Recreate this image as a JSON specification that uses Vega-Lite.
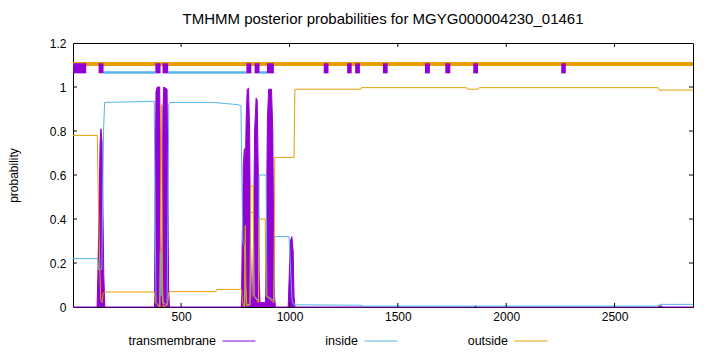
{
  "$schema": "https://vega.github.io/schema/vega-lite/v6.json",
  "width": 620,
  "height": 264,
  "autosize": {"type": "none"},
  "padding": {"left": 73, "top": 43, "right": 27, "bottom": 45},
  "background": "white",
  "config": {
    "font": "Liberation Sans",
    "view": {"stroke": "black", "strokeWidth": 1},
    "axis": {"grid": false, "ticks": false, "domain": false, "labelFont": "Liberation Sans", "labelFontSize": 12, "labelColor": "black", "titleFont": "Liberation Sans", "titleFontSize": 12, "titleFontWeight": "normal", "titleColor": "black"}
  },
  "title": {"text": "TMHMM posterior probabilities for MGYG000004230_01461", "fontSize": 15, "fontWeight": "normal", "font": "Liberation Sans", "color": "black", "anchor": "middle", "offset": 10},
  "datasets": {
    "curves": [
      {"series": "transmembrane", "pos": 1, "p": 0},
      {"series": "transmembrane", "pos": 112, "p": 0},
      {"series": "transmembrane", "pos": 116, "p": 0.15},
      {"series": "transmembrane", "pos": 121, "p": 0.45},
      {"series": "transmembrane", "pos": 126, "p": 0.75},
      {"series": "transmembrane", "pos": 130, "p": 0.81},
      {"series": "transmembrane", "pos": 135, "p": 0.75},
      {"series": "transmembrane", "pos": 139, "p": 0.45},
      {"series": "transmembrane", "pos": 143, "p": 0.15},
      {"series": "transmembrane", "pos": 148, "p": 0},
      {"series": "transmembrane", "pos": 377, "p": 0},
      {"series": "transmembrane", "pos": 381, "p": 0.6},
      {"series": "transmembrane", "pos": 384, "p": 0.98},
      {"series": "transmembrane", "pos": 390, "p": 1.0},
      {"series": "transmembrane", "pos": 401, "p": 1.0},
      {"series": "transmembrane", "pos": 404, "p": 0.7},
      {"series": "transmembrane", "pos": 407, "p": 0.1},
      {"series": "transmembrane", "pos": 410, "p": 0.03},
      {"series": "transmembrane", "pos": 413, "p": 0.3},
      {"series": "transmembrane", "pos": 416, "p": 0.9},
      {"series": "transmembrane", "pos": 420, "p": 1.0},
      {"series": "transmembrane", "pos": 435, "p": 0.99},
      {"series": "transmembrane", "pos": 438, "p": 0.7},
      {"series": "transmembrane", "pos": 442, "p": 0.1},
      {"series": "transmembrane", "pos": 446, "p": 0},
      {"series": "transmembrane", "pos": 778, "p": 0},
      {"series": "transmembrane", "pos": 782, "p": 0.3},
      {"series": "transmembrane", "pos": 787, "p": 0.65},
      {"series": "transmembrane", "pos": 792, "p": 0.72},
      {"series": "transmembrane", "pos": 796, "p": 0.6},
      {"series": "transmembrane", "pos": 800, "p": 0.85},
      {"series": "transmembrane", "pos": 805, "p": 0.99},
      {"series": "transmembrane", "pos": 811, "p": 0.995},
      {"series": "transmembrane", "pos": 816, "p": 0.8},
      {"series": "transmembrane", "pos": 820, "p": 0.3},
      {"series": "transmembrane", "pos": 824, "p": 0.05},
      {"series": "transmembrane", "pos": 830, "p": 0.02},
      {"series": "transmembrane", "pos": 834, "p": 0.3},
      {"series": "transmembrane", "pos": 839, "p": 0.8},
      {"series": "transmembrane", "pos": 846, "p": 0.95},
      {"series": "transmembrane", "pos": 851, "p": 0.94},
      {"series": "transmembrane", "pos": 856, "p": 0.6},
      {"series": "transmembrane", "pos": 860, "p": 0.15},
      {"series": "transmembrane", "pos": 864, "p": 0.02},
      {"series": "transmembrane", "pos": 889, "p": 0.02},
      {"series": "transmembrane", "pos": 893, "p": 0.3},
      {"series": "transmembrane", "pos": 898, "p": 0.85},
      {"series": "transmembrane", "pos": 904, "p": 0.99},
      {"series": "transmembrane", "pos": 917, "p": 0.99},
      {"series": "transmembrane", "pos": 923, "p": 0.8},
      {"series": "transmembrane", "pos": 927, "p": 0.3},
      {"series": "transmembrane", "pos": 931, "p": 0.05},
      {"series": "transmembrane", "pos": 935, "p": 0},
      {"series": "transmembrane", "pos": 994, "p": 0},
      {"series": "transmembrane", "pos": 999, "p": 0.15},
      {"series": "transmembrane", "pos": 1004, "p": 0.3},
      {"series": "transmembrane", "pos": 1011, "p": 0.32},
      {"series": "transmembrane", "pos": 1017, "p": 0.25},
      {"series": "transmembrane", "pos": 1021, "p": 0.05},
      {"series": "transmembrane", "pos": 1025, "p": 0},
      {"series": "transmembrane", "pos": 1850, "p": 0},
      {"series": "transmembrane", "pos": 1858, "p": 0.006},
      {"series": "transmembrane", "pos": 1868, "p": 0},
      {"series": "transmembrane", "pos": 2700, "p": 0},
      {"series": "transmembrane", "pos": 2712, "p": 0.006},
      {"series": "transmembrane", "pos": 2725, "p": 0},
      {"series": "transmembrane", "pos": 2862, "p": 0},
      {"series": "inside", "pos": 1, "p": 0.22},
      {"series": "inside", "pos": 115, "p": 0.22},
      {"series": "inside", "pos": 119, "p": 0.17},
      {"series": "inside", "pos": 134, "p": 0.17},
      {"series": "inside", "pos": 138, "p": 0.5},
      {"series": "inside", "pos": 142, "p": 0.8},
      {"series": "inside", "pos": 147, "p": 0.93},
      {"series": "inside", "pos": 376, "p": 0.935},
      {"series": "inside", "pos": 380, "p": 0.4},
      {"series": "inside", "pos": 384, "p": 0.02},
      {"series": "inside", "pos": 401, "p": 0.0},
      {"series": "inside", "pos": 404, "p": 0.25},
      {"series": "inside", "pos": 407, "p": 0.05},
      {"series": "inside", "pos": 410, "p": 0.25},
      {"series": "inside", "pos": 414, "p": 0.02},
      {"series": "inside", "pos": 435, "p": 0.01},
      {"series": "inside", "pos": 439, "p": 0.4},
      {"series": "inside", "pos": 443, "p": 0.92},
      {"series": "inside", "pos": 448, "p": 0.93},
      {"series": "inside", "pos": 650, "p": 0.93},
      {"series": "inside", "pos": 700, "p": 0.925},
      {"series": "inside", "pos": 760, "p": 0.92},
      {"series": "inside", "pos": 776, "p": 0.915},
      {"series": "inside", "pos": 780, "p": 0.6},
      {"series": "inside", "pos": 785, "p": 0.29},
      {"series": "inside", "pos": 792, "p": 0.28},
      {"series": "inside", "pos": 796, "p": 0.1},
      {"series": "inside", "pos": 800, "p": 0.01},
      {"series": "inside", "pos": 818, "p": 0.01},
      {"series": "inside", "pos": 821, "p": 0.43},
      {"series": "inside", "pos": 833, "p": 0.43},
      {"series": "inside", "pos": 837, "p": 0.05},
      {"series": "inside", "pos": 857, "p": 0.03},
      {"series": "inside", "pos": 860, "p": 0.6},
      {"series": "inside", "pos": 892, "p": 0.6},
      {"series": "inside", "pos": 896, "p": 0.05},
      {"series": "inside", "pos": 928, "p": 0.03},
      {"series": "inside", "pos": 932, "p": 0.32},
      {"series": "inside", "pos": 998, "p": 0.32},
      {"series": "inside", "pos": 1004, "p": 0.2},
      {"series": "inside", "pos": 1012, "p": 0.03},
      {"series": "inside", "pos": 1020, "p": 0.01},
      {"series": "inside", "pos": 1330, "p": 0.008},
      {"series": "inside", "pos": 1340, "p": 0.004},
      {"series": "inside", "pos": 2695, "p": 0.004},
      {"series": "inside", "pos": 2712, "p": 0.012},
      {"series": "inside", "pos": 2862, "p": 0.012},
      {"series": "outside", "pos": 1, "p": 0.78},
      {"series": "outside", "pos": 113, "p": 0.78},
      {"series": "outside", "pos": 118, "p": 0.5},
      {"series": "outside", "pos": 124, "p": 0.2},
      {"series": "outside", "pos": 129, "p": 0.03},
      {"series": "outside", "pos": 135, "p": 0.02},
      {"series": "outside", "pos": 140, "p": 0.06},
      {"series": "outside", "pos": 146, "p": 0.068},
      {"series": "outside", "pos": 376, "p": 0.068},
      {"series": "outside", "pos": 381, "p": 0.02},
      {"series": "outside", "pos": 402, "p": 0.0},
      {"series": "outside", "pos": 405, "p": 0.4},
      {"series": "outside", "pos": 408, "p": 0.92},
      {"series": "outside", "pos": 411, "p": 0.6},
      {"series": "outside", "pos": 414, "p": 0.1},
      {"series": "outside", "pos": 418, "p": 0.0},
      {"series": "outside", "pos": 437, "p": 0.01},
      {"series": "outside", "pos": 443, "p": 0.068},
      {"series": "outside", "pos": 450, "p": 0.07},
      {"series": "outside", "pos": 660, "p": 0.07},
      {"series": "outside", "pos": 664, "p": 0.08},
      {"series": "outside", "pos": 778, "p": 0.08},
      {"series": "outside", "pos": 784, "p": 0.02},
      {"series": "outside", "pos": 792, "p": 0.0},
      {"series": "outside", "pos": 796, "p": 0.37},
      {"series": "outside", "pos": 799, "p": 0.1},
      {"series": "outside", "pos": 803, "p": 0.005},
      {"series": "outside", "pos": 818, "p": 0.01},
      {"series": "outside", "pos": 821, "p": 0.55},
      {"series": "outside", "pos": 833, "p": 0.55},
      {"series": "outside", "pos": 836, "p": 0.05},
      {"series": "outside", "pos": 857, "p": 0.02},
      {"series": "outside", "pos": 860, "p": 0.4},
      {"series": "outside", "pos": 888, "p": 0.4},
      {"series": "outside", "pos": 892, "p": 0.05},
      {"series": "outside", "pos": 928, "p": 0.02},
      {"series": "outside", "pos": 932, "p": 0.68},
      {"series": "outside", "pos": 1021, "p": 0.68},
      {"series": "outside", "pos": 1025, "p": 0.99},
      {"series": "outside", "pos": 1328, "p": 0.99},
      {"series": "outside", "pos": 1332, "p": 0.997},
      {"series": "outside", "pos": 1818, "p": 0.997},
      {"series": "outside", "pos": 1822, "p": 0.99},
      {"series": "outside", "pos": 1872, "p": 0.99},
      {"series": "outside", "pos": 1876, "p": 0.997},
      {"series": "outside", "pos": 2700, "p": 0.997},
      {"series": "outside", "pos": 2706, "p": 0.986},
      {"series": "outside", "pos": 2862, "p": 0.986}
    ],
    "tmSeg": [
      {"start": 2, "end": 62}, {"start": 119, "end": 142}, {"start": 381, "end": 405}, {"start": 414, "end": 440},
      {"start": 801, "end": 824}, {"start": 839, "end": 862}, {"start": 896, "end": 928}, {"start": 1158, "end": 1180},
      {"start": 1266, "end": 1287}, {"start": 1303, "end": 1325}, {"start": 1431, "end": 1453}, {"start": 1625, "end": 1648},
      {"start": 1719, "end": 1742}, {"start": 1848, "end": 1870}, {"start": 2254, "end": 2275}
    ],
    "inSeg": [{"start": 142, "end": 381}, {"start": 440, "end": 801}, {"start": 862, "end": 896}],
    "outSeg": [{"start": 1, "end": 2862}],
    "xticks": [{"v": 500}, {"v": 1000}, {"v": 1500}, {"v": 2000}, {"v": 2500}],
    "yticks": [{"v": 0.2}, {"v": 0.4}, {"v": 0.6}, {"v": 0.8}, {"v": 1.0}]
  },
  "layer": [
    {
      "data": {"name": "curves"},
      "transform": [{"filter": "datum.series === 'transmembrane'"}],
      "mark": {"type": "area", "color": "#9400d3", "opacity": 1},
      "encoding": {
        "x": {"field": "pos", "type": "quantitative", "scale": {"domain": [1, 2862], "nice": false, "zero": false},
              "axis": {"values": [500, 1000, 1500, 2000, 2500], "format": "d", "labelPadding": 4, "title": null}},
        "y": {"field": "p", "type": "quantitative", "scale": {"domain": [0, 1.2], "nice": false},
              "axis": {"values": [0, 0.2, 0.4, 0.6, 0.8, 1, 1.2], "format": "~g", "labelPadding": 7, "title": "probability", "titlePadding": 29}}
      }
    },
    {
      "data": {"name": "curves"},
      "mark": {"type": "line", "strokeWidth": 1},
      "encoding": {
        "x": {"field": "pos", "type": "quantitative"},
        "y": {"field": "p", "type": "quantitative"},
        "color": {"field": "series", "type": "nominal",
                  "scale": {"domain": ["transmembrane", "inside", "outside"], "range": ["#9400d3", "#56b4e9", "#e69f00"]},
                  "legend": {"orient": "none", "legendX": 149, "legendY": 281, "direction": "horizontal", "columns": 3, "title": null,
                             "symbolType": "stroke", "symbolSize": 1089, "symbolStrokeWidth": 1, "labelAlign": "right", "labelOffset": -40,
                             "labelFontSize": 12.5, "labelFont": "Liberation Sans", "labelColor": "black", "columnPadding": 67, "gridAlign": "none", "padding": 0}},
        "order": {"field": "pos", "type": "quantitative"}
      }
    },
    {
      "data": {"name": "outSeg"},
      "mark": {"type": "rule", "color": "#e69f00", "strokeWidth": 4},
      "encoding": {"x": {"field": "start", "type": "quantitative"}, "x2": {"field": "end"}, "y": {"datum": 1.105}}
    },
    {
      "data": {"name": "inSeg"},
      "mark": {"type": "rule", "color": "#56b4e9", "strokeWidth": 2.5},
      "encoding": {"x": {"field": "start", "type": "quantitative"}, "x2": {"field": "end"}, "y": {"datum": 1.066}}
    },
    {
      "data": {"name": "tmSeg"},
      "mark": {"type": "rect", "color": "#9400d3"},
      "encoding": {"x": {"field": "start", "type": "quantitative"}, "x2": {"field": "end"}, "y": {"datum": 1.062}, "y2": {"datum": 1.108}}
    },
    {
      "data": {"name": "xticks"},
      "mark": {"type": "rule", "color": "black", "strokeWidth": 1},
      "encoding": {"x": {"field": "v", "type": "quantitative"}, "y": {"datum": 0}, "y2": {"datum": 0.018}}
    },
    {
      "data": {"name": "xticks"},
      "mark": {"type": "rule", "color": "black", "strokeWidth": 1},
      "encoding": {"x": {"field": "v", "type": "quantitative"}, "y": {"datum": 1.2}, "y2": {"datum": 1.182}}
    },
    {
      "data": {"name": "yticks"},
      "mark": {"type": "rule", "color": "black", "strokeWidth": 1},
      "encoding": {"y": {"field": "v", "type": "quantitative"}, "x": {"datum": 1}, "x2": {"datum": 19}}
    },
    {
      "data": {"name": "yticks"},
      "mark": {"type": "rule", "color": "black", "strokeWidth": 1},
      "encoding": {"y": {"field": "v", "type": "quantitative"}, "x": {"datum": 2862}, "x2": {"datum": 2844}}
    }
  ]
}
